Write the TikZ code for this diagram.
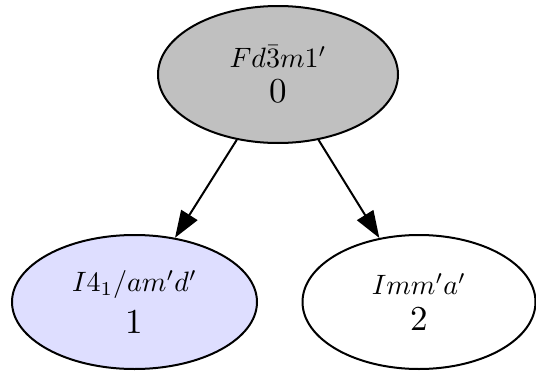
\documentclass[tikz,border=0pt]{standalone}
\usetikzlibrary{shapes.geometric,arrows.meta}
\definecolor{topgray}{RGB}{192,192,192}
\definecolor{lav}{RGB}{222,222,255}
\newcommand{\symline}[1]{\scalebox{2.8}{$#1$}}
\newcommand{\numline}[1]{\scalebox{3.5}{#1}}
\begin{document}
\begin{tikzpicture}[x=1pt,y=-1pt,
  state/.style={ellipse, draw=black, line width=2pt, inner sep=0pt, align=center},
  conn/.style={line width=2pt, -{Triangle[length=27pt,width=19pt]}},
]
\useasboundingbox (0,0) rectangle (536,372);
\begin{scope}
\clip (0,0) rectangle (536,372);
\node[state, fill=topgray, minimum width=240pt, minimum height=137pt] (n0) at (278,74.5)
  {\symline{Fd\bar{3}m1'}\\[11pt]\numline{0}};
\node[state, fill=lav, minimum width=245pt, minimum height=134pt] (n1) at (134.5,302)
  {\symline{I4_1/am'd'}\\[11pt]\numline{1}};
\node[state, fill=white, minimum width=233pt, minimum height=134pt] (n2) at (419,302)
  {\symline{Imm'a'}\\[11pt]\numline{2}};
\draw[conn] (n0) -- (n1);
\draw[conn] (n0) -- (n2);
\end{scope}
\end{tikzpicture}
\end{document}
